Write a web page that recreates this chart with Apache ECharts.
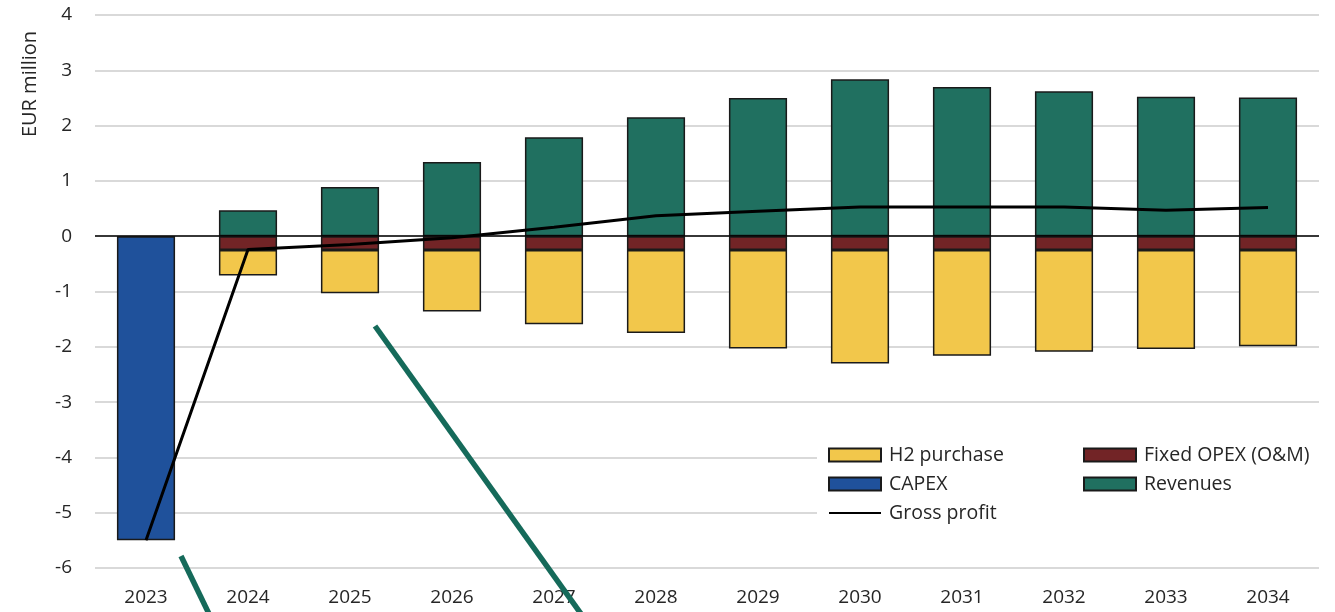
<!DOCTYPE html>
<html>
<head>
<meta charset="utf-8">
<script src="https://cdn.jsdelivr.net/npm/echarts@6/dist/echarts.min.js"></script>
<style>
  html, body { margin: 0; padding: 0; background: #fff; }
  #chart { width: 1335px; height: 612px; }
</style>
</head>
<body>
<div id="chart"></div>
<script>
// 数据
var years = ['2023', '2024', '2025', '2026', '2027', '2028', '2029', '2030', '2031', '2032', '2033', '2034'];
var capex = [-5.5, '-', '-', '-', '-', '-', '-', '-', '-', '-', '-', '-'];
var fixedOpex = ['-', -0.25, -0.25, -0.25, -0.25, -0.25, -0.25, -0.25, -0.25, -0.25, -0.25, -0.25];
var h2Purchase = ['-', -0.46, -0.78, -1.11, -1.34, -1.50, -1.78, -2.05, -1.91, -1.84, -1.79, -1.74];
var revenues = ['-', 0.47, 0.89, 1.34, 1.79, 2.15, 2.50, 2.84, 2.70, 2.62, 2.52, 2.51];
var grossProfit = [-5.5, -0.24, -0.15, -0.03, 0.16, 0.37, 0.45, 0.53, 0.53, 0.53, 0.47, 0.52];
var yTicks = [-6, -5, -4, -3, -2, -1, 0, 1, 2, 3, 4];

var colors = {
  h2: '#f2c74b',
  opex: '#722426',
  capex: '#1f519b',
  rev: '#207060',
  profit: '#000000'
};
var font = '"Open Sans", Lato, sans-serif';
var txt = '#262626';

var chart = echarts.init(document.getElementById('chart'));

function barSeries(name, data, color) {
  return {
    name: name,
    type: 'bar',
    stack: 'total',
    barWidth: '57%',
    data: data,
    itemStyle: { color: color, borderColor: '#1a1a1a', borderWidth: 1.5 }
  };
}

var revSeries = barSeries('Revenues', revenues, colors.rev);
// 零线
revSeries.markLine = {
  silent: true,
  symbol: 'none',
  label: { show: false },
  lineStyle: { color: '#000', width: 1.5, type: 'solid' },
  data: [{ yAxis: 0 }]
};

var legendText = { fontSize: 19.5, color: txt, fontFamily: font, padding: [0, 0, 0, 3] };

chart.setOption({
  animation: false,
  textStyle: { fontFamily: font },
  grid: { left: 95, right: 16, top: 15, bottom: 44 },
  legend: [
    {
      left: 823, top: 440, orient: 'vertical',
      itemWidth: 52, itemHeight: 13, itemGap: 9,
      textStyle: legendText,
      data: [
        { name: 'H2 purchase', icon: 'rect' },
        { name: 'CAPEX', icon: 'rect' },
        { name: 'Gross profit', itemStyle: { opacity: 0 } }
      ]
    },
    {
      left: 1078, top: 440, orient: 'vertical',
      itemWidth: 52, itemHeight: 13, itemGap: 9,
      textStyle: legendText,
      data: [
        { name: 'Fixed OPEX (O&M)', icon: 'rect' },
        { name: 'Revenues', icon: 'rect' }
      ]
    }
  ],
  graphic: [
    // 图例白底
    { type: 'rect', z: 3, shape: { x: 817, y: 438, width: 502, height: 88 }, style: { fill: '#fff' } },
    // 纵轴名称
    {
      type: 'text', z: 5, x: 30, y: 84, rotation: Math.PI / 2,
      style: { text: 'EUR million', fontSize: 20, fill: txt, fontFamily: font, align: 'center', verticalAlign: 'middle' }
    },
    // 标注线
    { type: 'line', z: 10, shape: { x1: 181, y1: 556, x2: 211, y2: 618 }, style: { stroke: '#156a5a', lineWidth: 5.5 } },
    { type: 'line', z: 10, shape: { x1: 375, y1: 326, x2: 584, y2: 618 }, style: { stroke: '#156a5a', lineWidth: 5.5 } }
  ],
  xAxis: {
    type: 'category',
    data: years,
    axisLine: { show: false },
    axisTick: { show: false },
    axisLabel: { fontSize: 19, color: txt, margin: 20 }
  },
  yAxis: {
    type: 'value',
    min: yTicks[0],
    max: yTicks[yTicks.length - 1],
    interval: 1,
    axisLine: { show: false },
    axisTick: { show: false },
    axisLabel: { fontSize: 19, color: txt, margin: 23 },
    splitLine: { lineStyle: { color: '#d9d9d9', width: 2 } }
  },
  series: [
    barSeries('Fixed OPEX (O&M)', fixedOpex, colors.opex),
    barSeries('H2 purchase', h2Purchase, colors.h2),
    barSeries('CAPEX', capex, colors.capex),
    revSeries,
    {
      name: 'Gross profit',
      type: 'line',
      data: grossProfit,
      symbol: 'none',
      z: 5,
      itemStyle: { color: colors.profit },
      lineStyle: { color: colors.profit, width: 3 }
    }
  ]
});
</script>
</body>
</html>
